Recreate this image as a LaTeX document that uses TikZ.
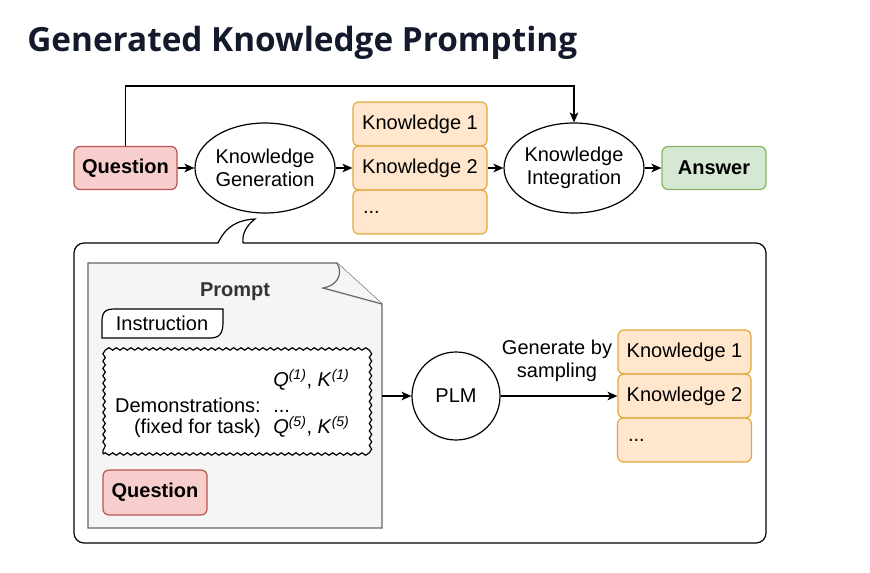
\documentclass[tikz,border=0pt]{standalone}
\usepackage{fontspec}
\setmainfont{Liberation Sans}
\newfontfamily\titlefont{Open Sans}
\usetikzlibrary{shapes.geometric,arrows.meta,decorations.pathmorphing}
\definecolor{titleC}{HTML}{131A2C}
\definecolor{pinkF}{HTML}{F8CECC}
\definecolor{pinkD}{HTML}{B85450}
\definecolor{orF}{HTML}{FFE6CC}
\definecolor{orD}{HTML}{E0A93A}
\definecolor{grF}{HTML}{D5E8D4}
\definecolor{grD}{HTML}{82B366}
\definecolor{docF}{HTML}{F5F5F5}
\definecolor{docD}{HTML}{666666}
\definecolor{txtG}{HTML}{333333}
\tikzset{
  lw/.style={line width=0.9pt},
  box/.style={draw, lw, rounded corners=4.5pt, inner sep=0pt},
  qbox/.style={box, fill=pinkF, draw=pinkD, minimum width=103*0.75pt, minimum height=43*0.75pt, font=\bfseries\fontsize{15}{17}\selectfont},
  abox/.style={box, fill=grF, draw=grD, minimum width=104*0.75pt, minimum height=43*0.75pt, font=\bfseries\fontsize{15}{17}\selectfont},
  kbox/.style={box, fill=orF, draw=orD, minimum width=134*0.75pt, minimum height=44*0.75pt},
  kdots/.style={kbox, text width=114*0.75pt, align=left, inner xsep=10*0.75pt},
  ell/.style={ellipse, draw, lw, inner sep=0pt, align=center},
  arr/.style={-{Stealth[length=7.5pt,width=6.5pt,inset=2pt]}, lw},
  docS/.style={fill=docF, draw=docD, lw},
  plain/.style={inner sep=0pt}
}
\begin{document}
\begin{tikzpicture}[x=0.75pt,y=-0.75pt, font=\fontsize{15}{17}\selectfont]
\useasboundingbox (0,0) rectangle (870,572);
% title
\node[plain, anchor=base west, text=titleC, font=\titlefont\bfseries\fontsize{25}{30}\selectfont] (title) at (27,51) {Generated Knowledge Prompting};
% top row
\node[qbox] (q) at (125.5,168) {Question};
\node[ell, minimum width=116*0.75pt, minimum height=90*0.75pt] (kg) at (265,168) {Knowledge\\Generation};
\node[kbox] (k1) at (420,124) {Knowledge 1};
\node[kbox] (k2) at (420,168) {Knowledge 2};
\node[kdots] (k3) at (420,212) {...};
\node[ell, minimum width=118*0.75pt, minimum height=90*0.75pt] (ki) at (574,168) {Knowledge\\Integration};
\node[abox] (ans) at (714,168) {Answer};
\draw[arr] (q) -- (kg);
\draw[arr] (kg) -- (k2);
\draw[arr] (k2) -- (ki);
\draw[arr] (ki) -- (ans);
\draw[arr] (q.north) -- ++(0,-60) -| (ki.north);
% callout
\draw[lw, rounded corners=7.5pt] (243,243) -- (766,243) -- (766,543) -- (74,543) -- (74,243) -- (218,243);
\draw[lw] (218,243) .. controls (226,226) and (238,220) .. (255,219) .. controls (246,226) and (242,234) .. (243,243);
% prompt document
\draw[docS] (88,263) -- (337,263) -- (382,304) -- (382,528) -- (88,528) -- cycle;
\draw[docS] (337,263) .. controls (344,275) and (336,286) .. (323,288) -- (382,304);
\node[plain, text=txtG, font=\bfseries\fontsize{15}{17}\selectfont] (prompt) at (235,292) {Prompt};
\draw[lw, fill=white] (102,338) -- (102,322) .. controls (102,312) and (105,309) .. (115,309) -- (223,309) -- (223,322) .. controls (223,333) and (220,338) .. (210,338) -- cycle;
\node[plain] (instr) at (162,323.5) {Instruction};
\node[draw, lw, fill=white, decorate, decoration={snake, segment length=5.5pt, amplitude=0.9pt}, minimum width=265*0.75pt, minimum height=102*0.75pt] (demo) at (235.5,403) {};
\node[plain, anchor=base east] (d1) at (261,412) {Demonstrations:};
\node[plain, anchor=base east] (d2) at (261,433) {(fixed for task)};
\node[plain, anchor=base west] (d3) at (273,386) {\textit{Q}\textsuperscript{\textit{(1)}}, \textit{K}\textsuperscript{\textit{(1)}}};
\node[plain, anchor=base west] (d4) at (273,412) {...};
\node[plain, anchor=base west] (d5) at (273,433) {\textit{Q}\textsuperscript{\textit{(5)}}, \textit{K}\textsuperscript{\textit{(5)}}};
\node[qbox, minimum width=104*0.75pt, minimum height=45*0.75pt] (q2) at (155,492.5) {Question};
% PLM
\coordinate (docR) at (382,396);
\node[circle, draw, lw, minimum size=88*0.75pt, inner sep=0pt] (plm) at (456,396) {PLM};
\node[kbox, minimum width=133*0.75pt] (rk1) at (684.5,352) {Knowledge 1};
\node[kbox, minimum width=133*0.75pt] (rk2) at (684.5,396) {Knowledge 2};
\node[kdots, text width=113*0.75pt] (rk3) at (684.5,440) {...};
\draw[arr] (docR) -- (plm);
\draw[arr] (plm) -- (rk2);
\node[plain, align=center] (gl) at (557,361) {Generate by\\sampling};
\end{tikzpicture}
\end{document}
